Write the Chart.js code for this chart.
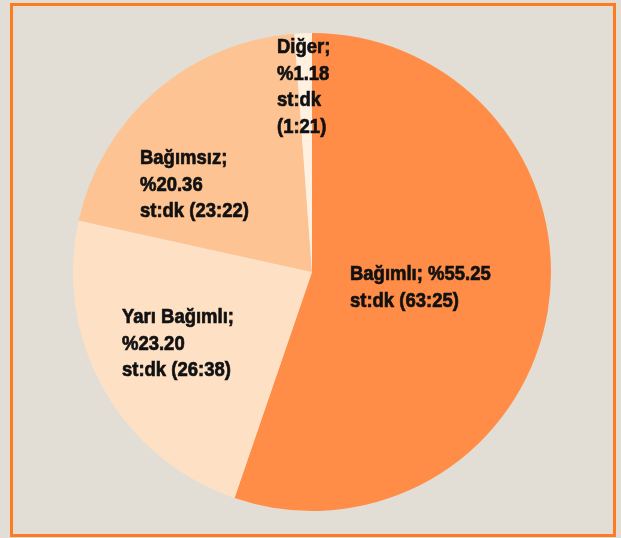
<!DOCTYPE html>
<html>
<head>
<meta charset="utf-8">
<script src="https://cdn.jsdelivr.net/npm/chart.js@4"></script>
<style>
  html, body { margin: 0; padding: 0; background: #e2ded5; }
  #wrap { position: relative; width: 621px; height: 538px; }
  #frame { position: absolute; left: 10px; top: 3px; width: 600px; height: 528px; border: 3px solid #ff7b22; }
  #myChart { position: absolute; left: 0; top: 0; }
</style>
</head>
<body>
<div id="wrap">
  <div id="frame"></div>
  <canvas id="myChart" width="621" height="538"></canvas>
</div>
<script>
var categories = ["Bağımlı", "Yarı Bağımlı", "Bağımsız", "Diğer"];
var percents = [55.25, 23.20, 20.36, 1.18];
var times = ["63:25", "26:38", "23:22", "1:21"];
var colors = ["#ff8d47", "#fee0c4", "#fec392", "#fff0e0"];

// label lines per slice (left x, first baseline y)
var labelPlaces = [
  { x: 350, y: 280, lines: function(i){ return [categories[i] + "; %" + percents[i].toFixed(2), "st:dk (" + times[i] + ")"]; } },
  { x: 122, y: 323, lines: function(i){ return [categories[i] + ";", "%" + percents[i].toFixed(2), "st:dk (" + times[i] + ")"]; } },
  { x: 140, y: 164, lines: function(i){ return [categories[i] + ";", "%" + percents[i].toFixed(2), "st:dk (" + times[i] + ")"]; } },
  { x: 277, y: 53, lines: function(i){ return [categories[i] + ";", "%" + percents[i].toFixed(2), "st:dk", "(" + times[i] + ")"]; } }
];

var sliceLabels = {
  id: 'sliceLabels',
  afterDatasetsDraw: function(chart) {
    var c = chart.ctx;
    labelPlaces.forEach(function(p, i) {
      c.save();
      c.font = "bold 21px 'Liberation Sans', Arial, sans-serif";
      c.fillStyle = "#111";
      c.strokeStyle = "#111";
      c.lineWidth = 0.7;
      c.textAlign = "left";
      c.textBaseline = "alphabetic";
      c.translate(p.x, p.y);
      c.scale(0.88, 1);
      p.lines(i).forEach(function(t, k) {
        c.fillText(t, 0, k * 26.5);
        c.strokeText(t, 0, k * 26.5);
      });
      c.restore();
    });
  }
};

var ctx = document.getElementById("myChart").getContext('2d');
new Chart(ctx, {
  type: 'pie',
  data: {
    labels: categories,
    datasets: [{
      data: percents,
      backgroundColor: colors,
      borderWidth: 0
    }]
  },
  options: {
    responsive: false,
    animation: false,
    layout: { padding: { left: 73, right: 70, top: 33, bottom: 27 } },
    plugins: {
      legend: { display: false },
      tooltip: { enabled: false }
    }
  },
  plugins: [sliceLabels]
});
</script>
</body>
</html>
